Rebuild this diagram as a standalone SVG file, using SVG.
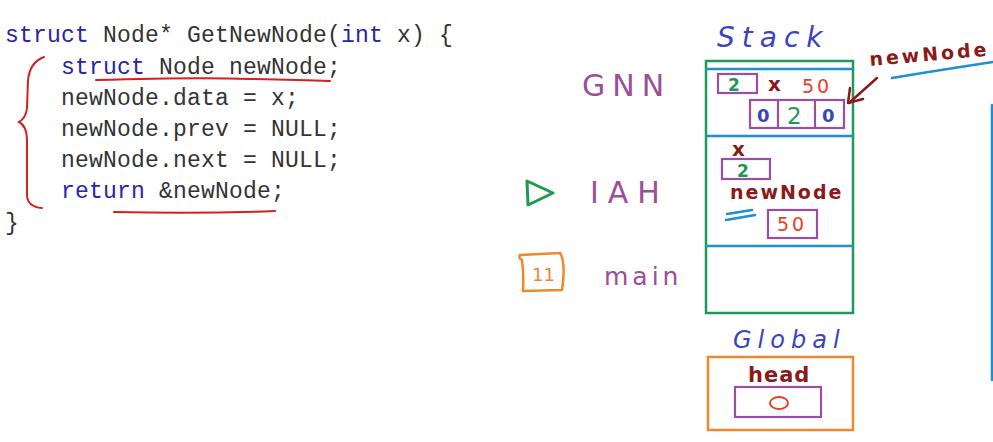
<svg xmlns="http://www.w3.org/2000/svg" width="993" height="442" viewBox="0 0 993 442">
<style>
.code{font-family:"Liberation Mono","DejaVu Sans Mono",monospace;font-size:23px;letter-spacing:0.2px;fill:#333}
.kw{fill:#2525a8}
.hand{font-family:"DejaVu Sans","Liberation Sans",sans-serif}
.red{stroke:#d42020;fill:none;stroke-width:2;stroke-linecap:round}
.pbox{fill:none;stroke:#9a4fa0;stroke-width:2.2}
.blue{stroke:#1e8fd0;stroke-width:2.5;fill:none;stroke-linecap:round}
</style>
<rect width="993" height="442" fill="#fff"/>
<g id="code">
<text class="code" x="5" y="42"><tspan class="kw">struct</tspan> Node* GetNewNode(<tspan class="kw">int</tspan> x) {</text>
<text class="code" x="61" y="74"><tspan class="kw">struct</tspan> Node newNode;</text>
<text class="code" x="61" y="105">newNode.data = x;</text>
<text class="code" x="61" y="136">newNode.prev = NULL;</text>
<text class="code" x="61" y="167">newNode.next = NULL;</text>
<text class="code" x="61" y="198"><tspan class="kw">return</tspan> &amp;newNode;</text>
<text class="code" x="5" y="230">}</text>
<path class="red" d="M96 80 Q200 77 250 79 Q300 80 330 81"/>
<path class="red" d="M114 212 Q200 214 275 211"/>
<path class="red" d="M44 57 Q30 62 28 80 L27 108 Q26 118 19 122 Q27 126 27 140 L27 196 Q28 207 42 208"/>
</g>
<g id="labels" class="hand">
<text x="582" y="96" font-size="30" fill="#9a4f98" letter-spacing="7">GNN</text>
<path d="M527 181 L528 205 L553 193 Z" fill="none" stroke="#1f9a50" stroke-width="3" stroke-linejoin="round"/>
<text x="590" y="203" font-size="30" fill="#9a4f98" letter-spacing="9">IAH</text>
<path d="M520 255 L560 253 Q566 262 562 290 L523 291 Q524 276 522 260 Q518 258 520 255 Z" fill="none" stroke="#f0882a" stroke-width="2.5"/>
<text x="532" y="281" font-size="18" fill="#f0882a">11</text>
<text x="604" y="285" font-size="25" fill="#9a4f98" letter-spacing="4">main</text>
</g>
<g id="stack">
<text x="717" y="47" font-size="28" fill="#3a44c0" class="hand" letter-spacing="7" font-style="italic">Stack</text>
<rect x="706" y="61" width="147" height="252" fill="none" stroke="#20995a" stroke-width="2.5"/>
<line class="blue" x1="707" y1="69" x2="852" y2="69"/>
<line class="blue" x1="707" y1="136" x2="852" y2="136"/>
<line class="blue" x1="707" y1="246" x2="852" y2="246"/>
</g>
<g id="frame-gnn" class="hand">
<rect class="pbox" x="718" y="74" width="39" height="19"/>
<text x="728" y="91" font-size="17" font-weight="bold" fill="#1f9a50">2</text>
<text x="768" y="91" font-size="20" font-weight="bold" fill="#8b1a1a">x</text>
<text x="802" y="93" font-size="19" fill="#e8402a" letter-spacing="3">50</text>
<rect class="pbox" x="750" y="100" width="94" height="28"/>
<line class="pbox" x1="778" y1="100" x2="778" y2="128"/>
<line class="pbox" x1="815" y1="100" x2="815" y2="128"/>
<text x="757" y="122" font-size="18" font-weight="bold" fill="#3a44c0">0</text>
<text x="787" y="124" font-size="23" fill="#1f9a50">2</text>
<text x="822" y="122" font-size="18" font-weight="bold" fill="#3a44c0">0</text>
</g>
<g id="frame-iah" class="hand">
<text x="732" y="156" font-size="20" font-weight="bold" fill="#8b1a1a">x</text>
<rect class="pbox" x="722" y="159" width="48" height="20"/>
<text x="737" y="177" font-size="17" font-weight="bold" fill="#1f9a50">2</text>
<text x="730" y="199" font-size="19" fill="#8b1a1a" letter-spacing="2" font-weight="bold">newNode</text>
<path class="blue" d="M727 214 L752 210 M726 220 L755 215" stroke-width="2"/>
<rect class="pbox" x="768" y="210" width="49" height="28"/>
<text x="777" y="231" font-size="19" fill="#e8402a" letter-spacing="3">50</text>
</g>
<g id="global" class="hand">
<text x="733" y="348" font-size="24" fill="#3a44c0" letter-spacing="6" font-style="italic">Global</text>
<rect x="708" y="357" width="145" height="73" fill="none" stroke="#f0882a" stroke-width="2.5"/>
<text x="748" y="382" font-size="21" fill="#8b1a1a" font-weight="bold" letter-spacing="1">head</text>
<rect class="pbox" x="735" y="387" width="86" height="30"/>
<ellipse cx="779" cy="403" rx="9" ry="6" fill="none" stroke="#e8402a" stroke-width="2"/>
</g>
<g id="connectors">
<text x="870" y="66" font-size="19" fill="#8b1a1a" class="hand" font-weight="bold" letter-spacing="3" transform="rotate(-5 870 66)">newNode</text>
<path d="M877 78 L849 103" stroke="#8b1a1a" stroke-width="2.5" fill="none" stroke-linecap="round"/>
<path d="M850 88 L848 103 L863 99" stroke="#8b1a1a" stroke-width="2.5" fill="none" stroke-linecap="round" stroke-linejoin="round"/>
<path class="blue" d="M892 78 Q940 70 993 62"/>
<line class="blue" x1="992" y1="105" x2="992" y2="380" stroke-width="2"/>
</g>
</svg>
